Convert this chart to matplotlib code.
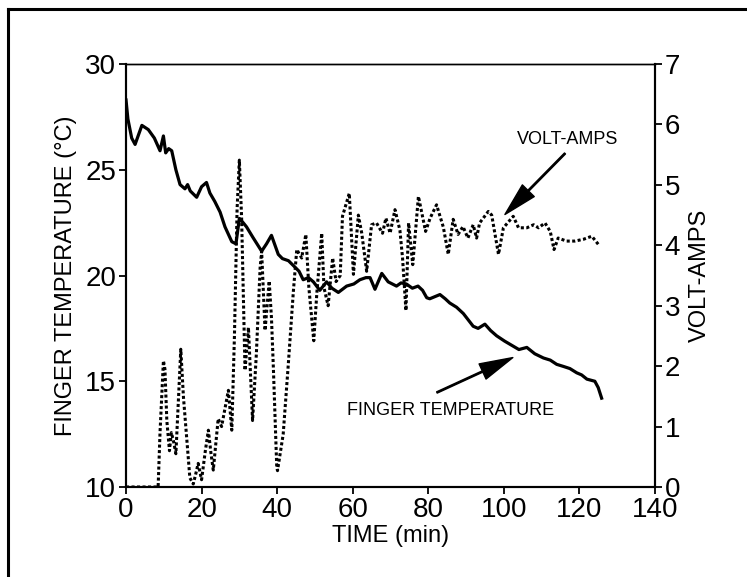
import matplotlib
matplotlib.use('Agg')
import matplotlib.pyplot as plt
from matplotlib.lines import Line2D

plt.rcParams['font.family'] = ['Liberation Sans', 'DejaVu Sans']

# finger temperature (deg C) vs time (min)
time_temp = [0, 0.5, 1.5, 2.4, 4.2, 5.9, 7.5, 9.0, 9.9, 10.5, 11.3, 12.1, 13.2, 14.3,
             15.6, 16.3, 17.0, 18.7, 20.0, 21.3, 22.2, 23.5, 24.9, 26.2, 28.0, 29.1,
             30.0, 31.0, 31.9, 33.6, 35.9, 37.2, 38.5, 40.3, 41.4, 43.0, 44.7, 45.8,
             46.9, 48.3, 49.6, 51.3, 52.2, 53.1, 54.5, 56.2, 58.4, 60.3, 61.9, 63.5,
             64.6, 65.9, 67.7, 69.4, 71.6, 72.8, 74.2, 75.8, 77.3, 78.5, 79.6, 80.4,
             83.1, 84.5, 85.7, 87.5, 89.3, 90.6, 91.9, 93.2, 95.0, 96.5, 98.1, 100.2,
             102.1, 104.0, 106.1, 108.2, 110.5, 112.3, 114.0, 115.8, 117.5, 119.3,
             120.6, 122.0, 124.1, 125.0, 125.9]
temp = [28.3, 27.4, 26.5, 26.2, 27.1, 26.9, 26.5, 25.9, 26.6, 25.8, 26.0, 25.9, 25.0,
        24.3, 24.1, 24.3, 24.0, 23.7, 24.2, 24.4, 23.9, 23.5, 23.0, 22.3, 21.6, 21.5,
        22.7, 22.5, 22.3, 21.8, 21.15, 21.5, 21.9, 21.0, 20.8, 20.7, 20.4, 20.2,
        19.8, 19.9, 19.7, 19.3, 19.5, 19.7, 19.4, 19.2, 19.5, 19.6, 19.8, 19.9,
        19.9, 19.35, 20.1, 19.7, 19.5, 19.65, 19.6, 19.4, 19.5, 19.3, 18.95, 18.9,
        19.1, 18.9, 18.7, 18.5, 18.2, 17.9, 17.6, 17.5, 17.7, 17.4, 17.15, 16.9,
        16.7, 16.5, 16.6, 16.3, 16.1, 16.0, 15.8, 15.7, 15.6, 15.4, 15.3, 15.1,
        15.0, 14.7, 14.2]

# volt-amps vs time (min)
time_va = [0, 8.5, 9.0, 9.9, 10.3, 10.8, 11.5, 12.0, 12.6, 13.2, 14.5, 15.2, 16.9, 17.8,
           18.4, 19.1, 20.0, 21.0, 21.8, 22.5, 23.1, 24.4, 25.3, 26.2, 27.1, 28.0, 28.7,
           29.4, 30.0, 30.6, 31.5, 32.4, 33.5, 34.5, 35.5, 35.9, 36.8, 37.9, 38.5, 39.0,
           39.9, 40.1, 41.6, 42.9, 44.3, 45.2, 46.5, 47.6, 48.4, 49.7, 50.5, 51.8, 52.4,
           53.5, 54.7, 55.6, 56.7, 57.3, 59.1, 60.2, 61.5, 62.4, 63.7, 65.0, 66.3, 67.9,
           68.8, 69.9, 71.2, 72.5, 73.2, 74.1, 74.8, 75.9, 77.4, 79.3, 80.5, 82.2, 84.0,
           85.3, 86.6, 87.9, 89.2, 90.5, 91.9, 92.8, 93.6, 95.9, 96.8, 98.6, 99.9, 102.5,
           103.9, 106.1, 107.9, 109.2, 110.9, 112.3, 113.3, 114.4, 116.6, 118.8, 121.1,
           123.3, 125.1]
volt_amps = [0, 0, 0.9, 2.09, 1.95, 1.1, 0.6, 0.9, 0.75, 0.55, 2.28, 1.49, 0.15, 0.05,
             0.2, 0.39, 0.12, 0.6, 0.94, 0.55, 0.28, 1.13, 1.0, 1.3, 1.6, 0.94, 2.5,
             4.6, 5.41, 4.45, 1.93, 2.64, 1.10, 2.2, 3.63, 3.9, 2.59, 3.41, 2.8, 1.98,
             0.33, 0.27, 0.87, 1.98, 3.24, 3.93, 3.79, 4.18, 3.3, 2.42, 3.2, 4.2, 3.3,
             3.0, 3.79, 3.4, 3.5, 4.48, 4.86, 3.52, 4.5, 4.2, 3.57, 4.34, 4.37, 4.2,
             4.45, 4.2, 4.59, 4.25, 3.79, 2.92, 4.37, 3.68, 4.81, 4.23, 4.45, 4.67, 4.3,
             3.85, 4.43, 4.18, 4.31, 4.12, 4.34, 4.12, 4.37, 4.56, 4.5, 3.85, 4.29, 4.48,
             4.29, 4.29, 4.34, 4.29, 4.37, 4.23, 3.93, 4.12, 4.07, 4.07, 4.1, 4.15, 4.01]

x_ticks = [0, 20, 40, 60, 80, 100, 120, 140]
temp_ticks = [10, 15, 20, 25, 30]
va_ticks = [0, 1, 2, 3, 4, 5, 6, 7]

fig = plt.figure(figsize=(7.47, 5.77), dpi=100)
ax = fig.add_axes([0.1687, 0.156, 0.708, 0.733])
ax2 = ax.twinx()

ax.plot(time_temp, temp, color='black', lw=2.3, solid_joinstyle='round')
ax2.plot(time_va, volt_amps, color='black', lw=2.2, linestyle=(0, (1, 0.8)))

ax.set_xlim(0, 140)
ax.set_ylim(10, 30)
ax2.set_ylim(0, 7)
ax.set_xticks(x_ticks)
ax.set_yticks(temp_ticks)
ax2.set_yticks(va_ticks)

for a in (ax, ax2):
    a.tick_params(direction='out', length=5, width=1.3, labelsize=20, pad=2)
    for s in a.spines.values():
        s.set_linewidth(1.5)
    a.spines['top'].set_linewidth(1.0)

ax.set_xlabel('TIME (min)', fontsize=17, labelpad=2)
ax.set_ylabel('FINGER TEMPERATURE (°C)', fontsize=17, labelpad=6)
ax2.set_ylabel('VOLT-AMPS', fontsize=17, labelpad=6)

# callout labels with separate arrows
arrow_kw = dict(facecolor='black', edgecolor='black', width=1.0, headwidth=12,
                headlength=24, shrink=0)
ax2.text(117, 5.75, 'VOLT-AMPS', fontsize=13, ha='center', va='center')
ax2.annotate('', xy=(100.3, 4.51), xytext=(116.2, 5.52), arrowprops=arrow_kw)
ax.text(86, 13.6, 'FINGER TEMPERATURE', fontsize=13, ha='center', va='center')
ax.annotate('', xy=(102.4, 16.12), xytext=(82.3, 14.47), arrowprops=arrow_kw)

# page frame (top and left edges)
fig.add_artist(Line2D([0.011, 1.0], [0.984, 0.984], color='black', lw=2.2))
fig.add_artist(Line2D([0.011, 0.011], [0.0, 0.984], color='black', lw=2.2))

fig.savefig('out.png', dpi=100)
